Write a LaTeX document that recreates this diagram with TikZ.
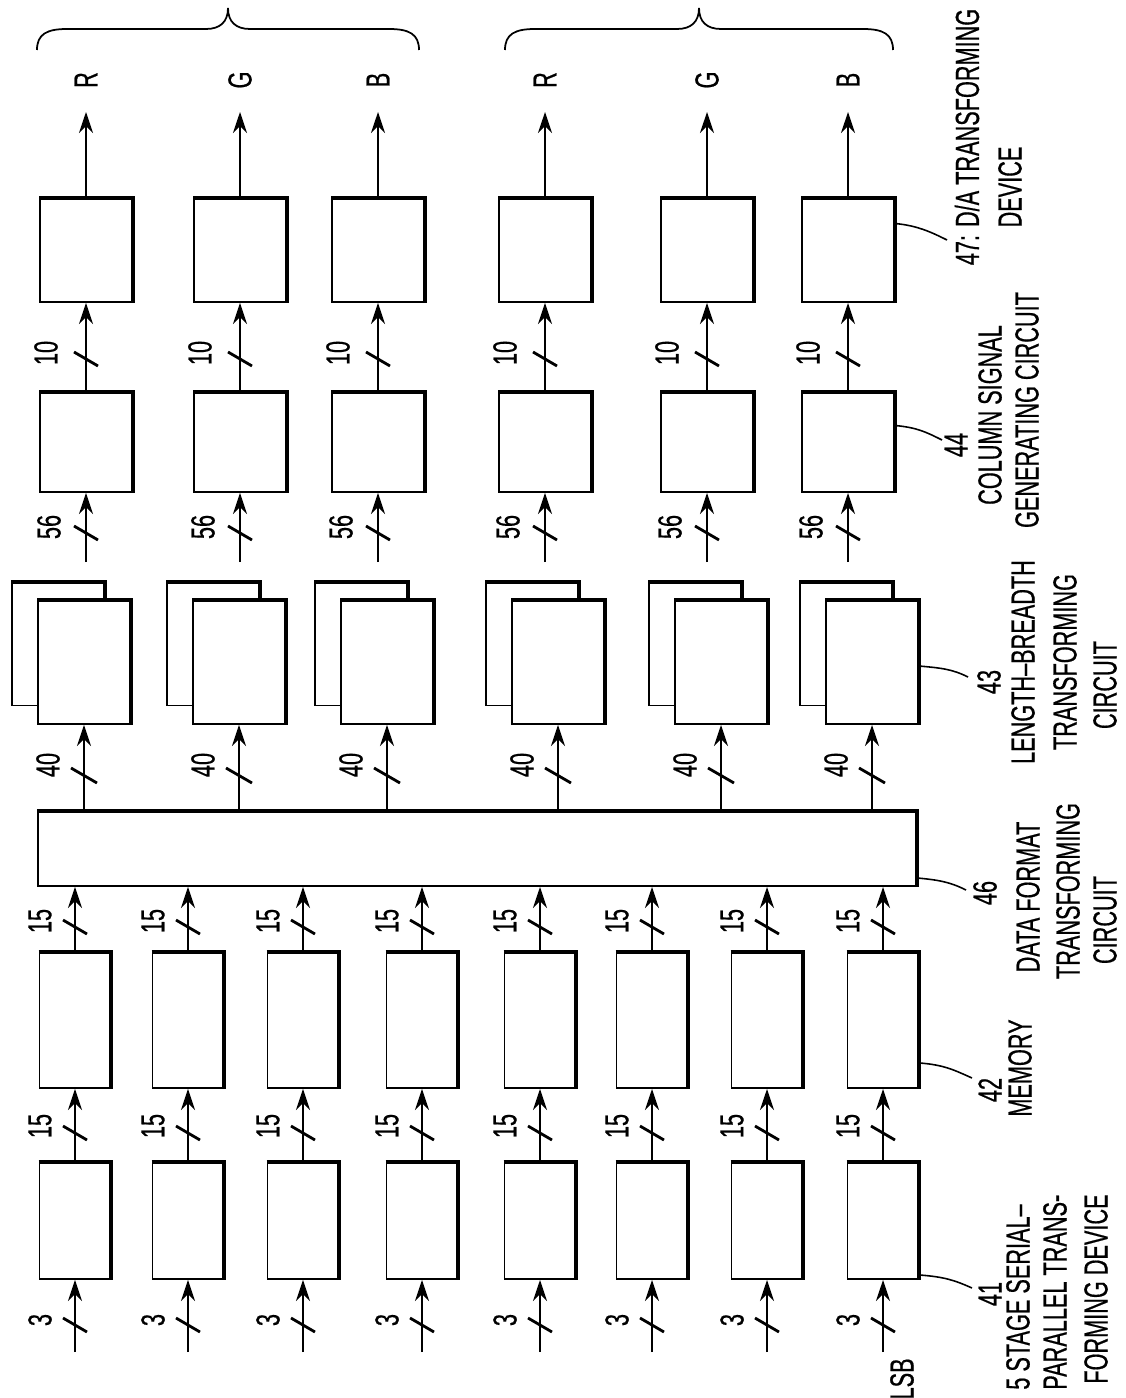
\documentclass[tikz,border=0pt]{standalone}
\usepackage{fontspec}
\newfontfamily\patfont[FakeStretch=0.65,FakeBold=0.5]{Liberation Sans}
\usetikzlibrary{arrows.meta,calc}

\begin{document}
\begin{tikzpicture}[x=0.02cm,y=-0.02cm,>={Stealth[length=12pt,width=8pt,inset=4pt]},
  blk/.style={draw,line width=1.1pt,fill=white,inner sep=0pt},
  serbox/.style={blk,minimum width=1.42cm,minimum height=2.32cm},
  membox/.style={blk,minimum width=1.42cm,minimum height=2.7cm},
  lbbox/.style={blk,minimum width=1.84cm,minimum height=2.46cm},
  csbox/.style={blk,minimum width=1.84cm,minimum height=1.98cm},
  dabox/.style={blk,minimum width=1.84cm,minimum height=2.06cm},
  heavy/.style={line width=2.3pt,line join=miter},
  sig/.style={line width=1.1pt,->},
  bus/.style={line width=1.6pt},
  lead/.style={line width=0.9pt},
  brc/.style={line width=1pt},
  txt/.style={font=\patfont\fontsize{19}{22}\selectfont,rotate=90,inner sep=0pt}]

\useasboundingbox (0,0) rectangle (1125,1398);

% eight input rows: serial-parallel stage and memory
\foreach \c [count=\i] in {75,188,303,422,540,652,767,883} {
  \node[serbox] (ser\i) at (\c,1221) {};
  \node[membox] (mem\i) at (\c,1020.5) {};
  \foreach \p in {ser,mem}
    \draw[heavy] (\p\i.north west) -- (\p\i.north east) -- (\p\i.south east);
}

% data format transforming circuit
\node[blk,minimum width=17.56cm,minimum height=1.48cm] (dfc) at (477,849) {};
\draw[heavy] (dfc.north west) -- (dfc.north east) -- (dfc.south east);

\foreach \c [count=\i] in {75,188,303,422,540,652,767,883} {
  \coordinate (in\i) at (\c,1352);
  \draw[sig] (in\i) -- (ser\i);
  \draw[bus] (\c-12,1318) -- (\c+12,1332);
  \node[txt] (nin\i) at (\c-35,1320) {3};
  \draw[sig] (ser\i) -- (mem\i);
  \draw[bus] (\c-12,1126) -- (\c+12,1140);
  \node[txt] (nsm\i) at (\c-35,1126) {15};
  \draw[sig] (mem\i) -- (mem\i.north |- dfc.south);
  \draw[bus] (\c-12,920) -- (\c+12,934);
  \node[txt] (nmd\i) at (\c-35,921) {15};
}

% six output rows
\foreach \d/\l/\col [count=\j] in {86/84/R,240/239/G,378/387/B,545/558/R,707/721/G,848/872/B} {
  \node[lbbox] (lbb\j) at (\l-26,644) {};
  \draw[heavy] (lbb\j.north west) -- (lbb\j.north east) -- (lbb\j.south east);
  \node[lbbox] (lb\j) at (\l,662.5) {};
  \draw[heavy] (lb\j.north west) -- (lb\j.north east) -- (lb\j.south east);
  \node[csbox] (cs\j) at (\d,442.5) {};
  \draw[heavy] (cs\j.north west) -- (cs\j.north east) -- (cs\j.south east);
  \node[dabox] (da\j) at (\d,250.5) {};
  \draw[heavy] (da\j.north west) -- (da\j.north east) -- (da\j.south east);

  \draw[sig] (lb\j.south |- dfc.north) -- (lb\j);
  \draw[bus] (\l-13,768) -- (\l+13,783);
  \node[txt] (nlb\j) at (\l-36,765) {40};

  \coordinate (cin\j) at (\d,562);
  \draw[sig] (cin\j) -- (cs\j);
  \draw[bus] (\d-12,526) -- (\d+12,540);
  \node[txt] (ncs\j) at (\d-37,527) {56};

  \draw[sig] (cs\j) -- (da\j);
  \draw[bus] (\d-12,352) -- (\d+12,366);
  \node[txt] (nda\j) at (\d-40,353) {10};

  \coordinate (out\j) at (\d,112);
  \draw[sig] (da\j) -- (out\j);
  \node[txt] (rgb\j) at (\d,80) {\col};
}

% braces over R G B groups
\foreach \a/\b in {37/419,505/893} {
  \pgfmathsetmacro\m{(\a+\b)/2}
  \draw[brc] (\a,50) .. controls (\a,34) and (\a+10,29) .. (\a+30,29) -- (\m-22,29)
    .. controls (\m-8,29) and (\m,22) .. (\m,8) .. controls (\m,22) and (\m+8,29) .. (\m+22,29)
    -- (\b-30,29) .. controls (\b-10,29) and (\b,34) .. (\b,50);
}

\node[txt,anchor=east] (lsb) at (902,1358) {LSB};

% reference numerals and captions
\node[txt] (n41) at (990,1294) {41};
\node[txt,anchor=west] (c41a) at (1018,1390) {5 STAGE SERIAL–};
\node[txt,anchor=west] (c41b) at (1055,1390) {PARALLEL TRANS-};
\node[txt,anchor=west] (c41c) at (1096,1384) {FORMING DEVICE};
\coordinate (t41) at (972,1288);
\draw[lead] ($(ser8.south east)+(0,-5)$) .. controls +(25,2) and +(-18,-8) .. (t41);

\node[txt] (n42) at (990,1090) {42};
\node[txt] (c42) at (1020,1068) {MEMORY};
\coordinate (t42) at (972,1078);
\draw[lead] ($(mem8.south east)+(0,-26)$) .. controls +(25,2) and +(-18,-8) .. (t42);

\node[txt] (n46) at (985,893) {46};
\node[txt] (c46a) at (1028,897) {DATA FORMAT};
\node[txt] (c46b) at (1068,891) {TRANSFORMING};
\node[txt] (c46c) at (1105,920) {CIRCUIT};
\coordinate (t46) at (966,890);
\draw[lead] ($(dfc.south east)+(0,-9)$) .. controls +(22,2) and +(-16,-8) .. (t46);

\node[txt] (n43) at (989,682) {43};
\node[txt] (c43a) at (1023,662) {LENGTH–BREADTH};
\node[txt] (c43b) at (1065,662) {TRANSFORMING};
\node[txt] (c43c) at (1105,685) {CIRCUIT};
\coordinate (t43) at (968,677);
\draw[lead] ($(lb6.east)+(0,3.5)$) .. controls +(22,2) and +(-16,-8) .. (t43);

\node[txt] (n44) at (956,445) {44};
\node[txt] (c44a) at (990,415) {COLUMN SIGNAL};
\node[txt] (c44b) at (1027,410) {GENERATING CIRCUIT};
\coordinate (t44) at (942,440);
\draw[lead] ($(cs6.east)+(0,-17)$) .. controls +(22,2) and +(-16,-8) .. (t44);

\node[txt] (c47a) at (967,137) {47: D/A TRANSFORMING};
\node[txt] (c47b) at (1010,187) {DEVICE};
\coordinate (t47) at (947,240);
\draw[lead] ($(da6.east)+(0,-27)$) .. controls +(22,2) and +(-16,-8) .. (t47);
\end{tikzpicture}
\end{document}
